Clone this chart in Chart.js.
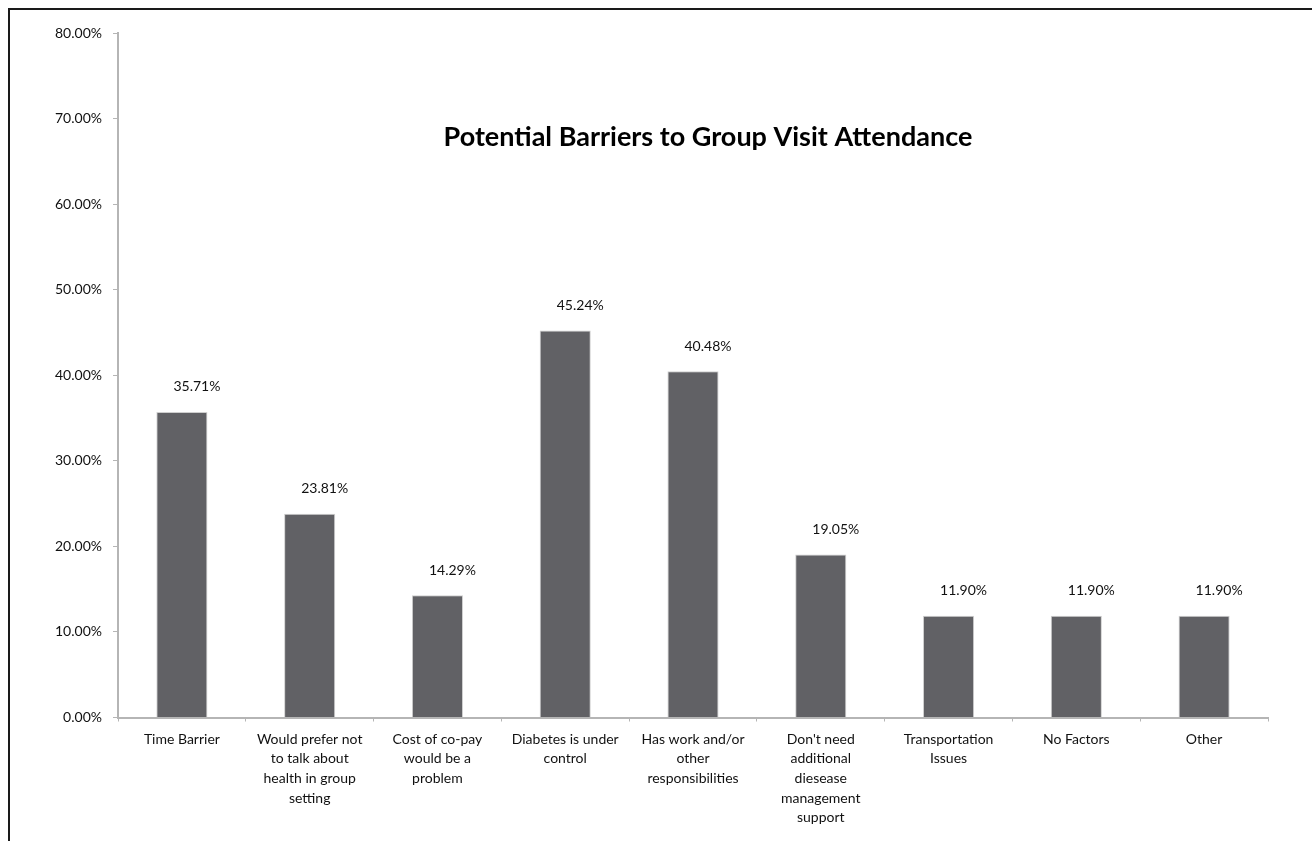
<!DOCTYPE html>
<html>
<head>
<meta charset="utf-8">
<script src="https://cdn.jsdelivr.net/npm/chart.js@4"></script>
<style>
    body { margin: 0; background: white; }
    .frame {
        position: absolute;
        left: 8px;
        top: 8px;
        width: 1310px;
        height: 840px;
        border-top: 2px solid #1a1a1a;
        border-left: 2px solid #1a1a1a;
    }
    #chart { position: absolute; left: 0; top: 0; }
</style>
</head>
<body>
<div class="frame"></div>
<canvas id="chart" width="1312" height="841"></canvas>
<script>
// DATA

const categories = [
    ["Time Barrier"],
    ["Would prefer not", "to talk about", "health in group", "setting"],
    ["Cost of co-pay", "would be a", "problem"],
    ["Diabetes is under", "control"],
    ["Has work and/or", "other", "responsibilities"],
    ["Don't need", "additional", "diesease", "management", "support"],
    ["Transportation", "Issues"],
    ["No Factors"],
    ["Other"],
];
const percentages = [35.71, 23.81, 14.29, 45.24, 40.48, 19.05, 11.90, 11.90, 11.90];
const chartTitle = "Potential Barriers to Group Visit Attendance";
const yMax = 80;
const yStep = 10;

// PLUGINS

// value labels above each bar
const valueLabels = {
    id: "valueLabels",
    afterDatasetsDraw(chart) {
        const ctx = chart.ctx;
        const meta = chart.getDatasetMeta(0);
        ctx.save();
        ctx.font = "14px Lato";
        ctx.fillStyle = "#111";
        ctx.textAlign = "center";
        ctx.textBaseline = "middle";
        meta.data.forEach((bar, i) => {
            ctx.fillText(percentages[i].toFixed(2) + "%", bar.x + 15, bar.y - 25);
        });
        ctx.restore();
    }
};

// title sits inside the plot area
const innerTitle = {
    id: "innerTitle",
    afterDraw(chart) {
        const ctx = chart.ctx;
        const area = chart.chartArea;
        ctx.save();
        ctx.font = "bold 27px Lato";
        ctx.fillStyle = "#000";
        ctx.textAlign = "center";
        ctx.textBaseline = "middle";
        ctx.fillText(chartTitle, area.left + area.width * 0.513, area.top + area.height * 0.152);
        ctx.restore();
    }
};

// CHART

new Chart(document.getElementById("chart"), {
    type: "bar",
    plugins: [valueLabels, innerTitle],
    data: {
        labels: categories,
        datasets: [{
            data: percentages,
            backgroundColor: "#616165",
            borderColor: "#cfcfcf",
            borderWidth: 1,
            categoryPercentage: 1,
            barPercentage: 0.4,
        }]
    },
    options: {
        responsive: false,
        animation: false,
        events: [],
        layout: {
            padding: { top: 33, left: 0, right: 44, bottom: 0 }
        },
        scales: {
            x: {
                afterFit: scale => { scale.height = 123.5; },
                grid: {
                    offset: true,
                    drawOnChartArea: false,
                    tickLength: 4,
                    tickColor: "#b5b5b5",
                },
                border: { color: "#b5b5b5", width: 2 },
                ticks: {
                    color: "#111",
                    font: { family: "Lato", size: 14, lineHeight: 1.4 },
                    maxRotation: 0,
                    autoSkip: false,
                    padding: 8,
                }
            },
            y: {
                min: 0,
                max: yMax,
                afterFit: scale => { scale.width = 118; },
                grid: {
                    drawOnChartArea: false,
                    tickLength: 5,
                    tickColor: "#b5b5b5",
                },
                border: { color: "#b5b5b5", width: 2 },
                ticks: {
                    stepSize: yStep,
                    color: "#111",
                    font: { family: "Lato", size: 14 },
                    padding: 11,
                    callback: value => value.toFixed(2) + "%",
                }
            }
        },
        plugins: {
            legend: { display: false },
            tooltip: { enabled: false },
        }
    }
});
</script>
</body>
</html>
